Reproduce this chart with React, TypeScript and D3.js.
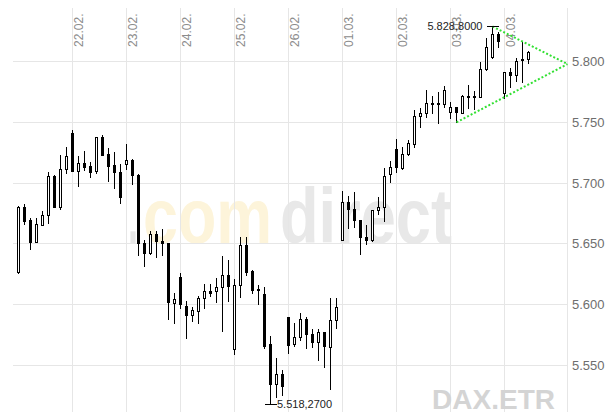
import React from 'react';
import * as d3 from 'd3';

// hourly candles, 9 per trading day
const opens = [
  5626.6, 5680.1, 5669.6, 5651.8, 5665.8, 5673.5, 5706.1, 5680.1, 5711.3,
  5741.0, 5710.2, 5716.3, 5713.8, 5709.9, 5737.7, 5723.9, 5714.9, 5708.9,
  5715.5, 5718.7, 5706.7, 5650.5, 5642.8, 5657.9, 5652.4, 5650.5, 5601.1,
  5622.5, 5599.2, 5591.8, 5595.1, 5605.3, 5611.3, 5611.5, 5614.3, 5624.4,
  5563.6, 5616.2, 5649.1, 5627.7, 5612.9, 5608.8, 5567.7, 5534.8, 5543.0,
  5589.6, 5567.4, 5573.2, 5588.2, 5575.9, 5569.1, 5577.3, 5565.5, 5587.4,
  5653.2, 5684.2, 5678.4, 5669.6, 5655.9, 5653.0, 5677.9, 5680.1, 5707.2,
  5727.8, 5712.7, 5723.9, 5731.9, 5755.2, 5757.4, 5765.6, 5765.6, 5764.8,
  5758.7, 5762.3, 5757.9, 5771.9, 5771.9, 5770.6, 5793.8, 5803.9, 5822.4,
  5773.8, 5791.1, 5788.9, 5802.1, 5801.8,
];
const highs = [
  5681.0, 5682.8, 5671.0, 5671.5, 5677.3, 5709.1, 5707.0, 5723.4, 5729.4,
  5743.7, 5722.3, 5726.4, 5717.6, 5738.0, 5739.6, 5728.6, 5725.3, 5715.5,
  5732.2, 5719.8, 5707.2, 5653.2, 5660.6, 5660.6, 5662.0, 5651.0, 5609.4,
  5625.8, 5603.0, 5597.9, 5607.1, 5617.0, 5617.0, 5622.2, 5640.0, 5636.8,
  5620.9, 5655.9, 5655.9, 5628.2, 5616.2, 5614.8, 5574.3, 5556.4, 5546.3,
  5590.0, 5584.7, 5592.9, 5589.6, 5580.0, 5580.0, 5577.8, 5605.3, 5605.3,
  5693.5, 5689.4, 5692.4, 5670.0, 5665.5, 5678.2, 5688.8, 5712.7, 5718.2,
  5736.3, 5729.9, 5735.4, 5760.1, 5761.5, 5776.6, 5771.6, 5775.2, 5780.1,
  5766.9, 5762.8, 5772.5, 5780.7, 5775.7, 5799.8, 5819.1, 5828.8, 5824.0,
  5791.4, 5794.4, 5802.6, 5816.3, 5808.6,
];
const lows = [
  5626.0, 5666.1, 5645.8, 5651.3, 5665.3, 5667.4, 5680.0, 5678.4, 5708.1,
  5710.0, 5697.4, 5710.8, 5704.8, 5708.3, 5722.9, 5702.0, 5696.2, 5683.4,
  5711.8, 5699.3, 5640.9, 5632.1, 5641.4, 5639.5, 5641.1, 5588.2, 5584.7,
  5597.5, 5572.4, 5586.8, 5585.2, 5597.5, 5607.1, 5602.5, 5578.6, 5603.3,
  5559.2, 5606.6, 5624.4, 5609.4, 5600.6, 5564.6, 5518.27, 5524.3, 5525.7,
  5560.0, 5566.3, 5571.0, 5564.1, 5565.5, 5554.5, 5549.0, 5530.4, 5581.1,
  5653.0, 5663.3, 5664.1, 5641.7, 5649.7, 5652.7, 5674.3, 5669.1, 5701.1,
  5709.4, 5711.3, 5723.1, 5729.9, 5746.4, 5754.6, 5757.4, 5749.7, 5762.3,
  5753.3, 5750.0, 5757.6, 5761.5, 5760.7, 5770.4, 5793.0, 5803.1, 5812.2,
  5769.7, 5779.3, 5784.0, 5782.9, 5799.0,
];
const closes = [
  5680.1, 5669.1, 5651.8, 5666.1, 5673.5, 5705.6, 5680.6, 5711.3, 5722.3,
  5710.2, 5716.3, 5713.5, 5709.4, 5737.7, 5723.4, 5714.3, 5708.9, 5688.3,
  5718.7, 5706.7, 5650.5, 5642.8, 5657.9, 5652.1, 5651.0, 5602.5, 5604.4,
  5600.3, 5591.8, 5595.6, 5605.3, 5611.3, 5609.9, 5614.3, 5624.4, 5615.6,
  5616.2, 5649.1, 5626.6, 5612.1, 5611.8, 5566.0, 5534.8, 5543.0, 5533.1,
  5566.8, 5573.2, 5588.0, 5575.9, 5569.1, 5577.3, 5566.3, 5587.4, 5598.3,
  5684.2, 5678.4, 5669.6, 5655.4, 5653.0, 5677.9, 5680.6, 5706.1, 5713.0,
  5713.0, 5723.9, 5733.2, 5755.2, 5757.4, 5765.6, 5764.8, 5764.8, 5776.6,
  5762.3, 5758.2, 5771.9, 5770.6, 5770.6, 5793.8, 5811.7, 5822.4, 5817.1,
  5791.1, 5788.9, 5800.7, 5801.0, 5808.1,
];

const dayLabels = ['22.02.', '23.02.', '24.02.', '25.02.', '26.02.', '01.03.', '02.03.', '03.03.', '04.03.'];
const dayStarts = [9, 18, 27, 36, 45, 54, 63, 72, 81];
const yTicks = [5550, 5600, 5650, 5700, 5750, 5800];

// triangle drawn on the chart: [candle index, price]
const triUpper = [[79, 5828.8], [91.5, 5797.9]];
const triLower = [[73, 5750.0], [91.5, 5797.9]];

const W = 613;
const H = 412;
const plotLeft = 13;
const plotRight = 567;
const font = "Arial, 'Liberation Sans', sans-serif";

const de = d3.formatLocale({ decimal: ',', thousands: '.', grouping: [3], currency: ['', ' €'] });
const fmtTick = de.format(',.0f');
const fmtVal = de.format(',.4f');

export default function App() {
  const x = d3.scaleLinear().domain([0, 85]).range([18.5, 528.5]);
  const y = d3.scaleLinear().domain([5550, 5800]).range([365.5, 61.5]);
  const px = (v: number) => Math.round(v) + 0.5;

  const candles = opens.map((o, i) => ({ o, h: highs[i], l: lows[i], c: closes[i], i }));

  const hiIdx = d3.maxIndex(highs);
  const loIdx = d3.minIndex(lows);

  const line = d3.line<number[]>().x(d => x(d[0])).y(d => y(d[1]));

  return (
    <div style={{ position: 'absolute', left: 0, top: 0 }}>
      <svg width={W} height={H} style={{ display: 'block', background: '#fff' }} fontFamily={font}>
        {/* watermark */}
        <g fontSize={78} fontWeight="bold">
          <text x={128} y={243} fill="#e6e6e6" textLength={10} lengthAdjust="spacingAndGlyphs">.</text>
          <text x={143} y={243} fill="#fdf4da" textLength={129} lengthAdjust="spacingAndGlyphs">com</text>
          <text x={280} y={243} fill="#e8e8e8" textLength={172} lengthAdjust="spacingAndGlyphs">direct</text>
        </g>

        {/* grid */}
        <g shapeRendering="crispEdges" stroke="#e6e6e6" strokeWidth={1}>
          {yTicks.map(t => (
            <line key={t} x1={plotLeft} x2={plotRight} y1={px(y(t) - 0.5)} y2={px(y(t) - 0.5)} />
          ))}
          {dayStarts.map(d => (
            <line key={d} x1={x(d)} x2={x(d)} y1={8} y2={H} />
          ))}
          <line x1={plotRight + 0.5} x2={plotRight + 0.5} y1={8} y2={H} />
        </g>

        {/* y labels */}
        {yTicks.map(t => (
          <text key={t} x={plotRight + 5} y={y(t)} dy="0.35em" fontSize={13} fill="#6e6e6e">
            {fmtTick(t)}
          </text>
        ))}

        {/* day labels */}
        {dayStarts.map((d, k) => (
          <text key={d} transform={`translate(${x(d) + 10.5},13.5) rotate(-90)`} textAnchor="end"
            fontSize={12} fill="#8c8c8c">
            {dayLabels[k]}
          </text>
        ))}

        <text x={555} y={409} textAnchor="end" fontSize={28} fontWeight="bold" fill="#d4d4d4">DAX.ETR</text>

        {/* candles */}
        <g shapeRendering="crispEdges">
          {candles.map(d => {
            const cx = x(d.i);
            const top = Math.round(y(Math.max(d.o, d.c)));
            const bot = Math.round(y(Math.min(d.o, d.c)));
            const up = d.c >= d.o;
            return (
              <g key={d.i}>
                <line x1={cx} x2={cx} y1={Math.round(y(d.h))} y2={Math.round(y(d.l)) + 1} stroke="#000" />
                <rect x={cx - 1} y={top + 0.5} width={2} height={Math.max(bot - top, 1)}
                  fill={up ? '#fff' : '#000'} stroke="#000" strokeWidth={1} />
              </g>
            );
          })}
        </g>

        {/* triangle */}
        <path d={line(triUpper as any) || ''} fill="none" stroke="#33e033" strokeWidth={2} strokeDasharray="2,2" />
        <path d={line(triLower as any) || ''} fill="none" stroke="#33e033" strokeWidth={2} strokeDasharray="2,2" />

        {/* high / low markers */}
        <g shapeRendering="crispEdges" stroke="#000">
          <line x1={x(hiIdx) - 6} x2={x(hiIdx) + 6} y1={px(y(highs[hiIdx]))} y2={px(y(highs[hiIdx]))} />
          <line x1={x(loIdx) - 6} x2={x(loIdx) + 6} y1={px(y(lows[loIdx]))} y2={px(y(lows[loIdx]))} />
        </g>
        <text x={x(hiIdx) - 10} y={y(highs[hiIdx])} dy="0.35em" textAnchor="end" fontSize={11} fill="#222">
          {fmtVal(highs[hiIdx])}
        </text>
        <text x={x(loIdx) + 6.5} y={y(lows[loIdx])} dy="0.35em" fontSize={11} fill="#222">
          {fmtVal(lows[loIdx])}
        </text>
      </svg>
    </div>
  );
}
